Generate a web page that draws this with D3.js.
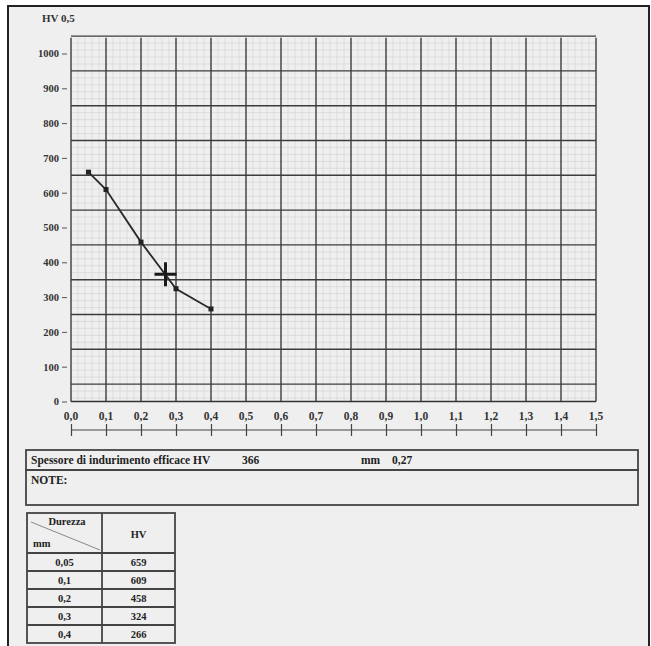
<!DOCTYPE html>
<html><head><meta charset="utf-8">
<script src="https://cdn.jsdelivr.net/npm/d3@7"></script>
<style>
html,body{margin:0;padding:0;background:#fff;}
svg{display:block;font-family:"Liberation Serif","DejaVu Serif",serif;font-weight:bold;}
</style></head>
<body><svg id="c" width="651" height="646"></svg>
<script>
// ---- data ----
const depthsMM = [0.05, 0.1, 0.2, 0.3, 0.4];
const hardnessHV = [659, 609, 458, 324, 266];
const depthLabels = ["0,05", "0,1", "0,2", "0,3", "0,4"];
const effectiveDepth = 0.27;
const effectiveHV = 366;
const xTicks = d3.range(0, 16).map(i => i / 10);
const yTicks = d3.range(0, 11).map(i => i * 100);
const yGridLines = d3.range(0, 11).map(i => 50 + i * 100);
const yAxisTitle = "HV 0,5";
const infoLabel = "Spessore di indurimento efficace HV";
const noteLabel = "NOTE:";
const tableHeader = ["Durezza", "mm", "HV"];

const fmt = v => v.toFixed(1).replace(".", ",");

const svg = d3.select("#c");
// page background + frame
svg.append("rect").attr("x", 8).attr("y", 6).attr("width", 641).attr("height", 650)
  .attr("fill", "#efefef").attr("stroke", "#222").attr("stroke-width", 2);

const x = d3.scaleLinear().domain([0, 1.5]).range([71, 596]);
const y = d3.scaleLinear().domain([0, 1000]).range([401.5, 53.5]);
const yTop = y(1045);

const g = svg.append("g");
// minor grid
const minorXv = d3.range(0, 75).map(i => i * 0.02).filter(v => Math.round(v * 100) % 10 !== 0);
g.selectAll(".mx").data(minorXv).join("line")
  .attr("x1", d => x(d)).attr("x2", d => x(d)).attr("y1", yTop).attr("y2", y(0))
  .attr("stroke", "#d2d2d2").attr("stroke-width", 0.6);
const minorYv = d3.range(0, 53).map(i => 50 + i * 20).filter(v => (v - 50) % 100 !== 0 && v < 1045);
minorYv.push(10, 30);
g.selectAll(".my").data(minorYv).join("line")
  .attr("x1", x(0)).attr("x2", x(1.5)).attr("y1", d => y(d)).attr("y2", d => y(d))
  .attr("stroke", "#d2d2d2").attr("stroke-width", 0.6);
// major grid
g.selectAll(".vx").data(xTicks).join("line")
  .attr("x1", d => x(d)).attr("x2", d => x(d)).attr("y1", yTop).attr("y2", y(0))
  .attr("stroke", "#3c3c3c").attr("stroke-width", 1.4);
g.selectAll(".hy").data(yGridLines).join("line")
  .attr("x1", x(0)).attr("x2", x(1.5)).attr("y1", d => y(d)).attr("y2", d => y(d))
  .attr("stroke", "#3c3c3c").attr("stroke-width", 1.4);
g.append("line").attr("x1", x(0)).attr("x2", x(1.5)).attr("y1", y(0)).attr("y2", y(0))
  .attr("stroke", "#333").attr("stroke-width", 1.4);

// y axis ticks + labels
const yAxis = d3.axisLeft(y).tickValues(yTicks).tickSize(5).tickPadding(3).tickFormat(d3.format("d"));
const ya = svg.append("g").attr("transform", `translate(${x(0) - 4},0)`).call(yAxis);
ya.select(".domain").remove();
ya.selectAll("line").attr("stroke", "#555");
ya.selectAll("text").attr("font-size", 10.5).attr("fill", "#333").attr("font-family", "Liberation Serif").attr("font-weight", "bold");

// x labels
svg.append("g").selectAll("text").data(xTicks).join("text")
  .attr("x", d => x(d)).attr("y", 420).attr("text-anchor", "middle")
  .attr("font-size", 11.5).attr("fill", "#333").text(fmt);
// lower x axis line with ticks
const xAxis = d3.axisBottom(x).tickValues(xTicks).tickSize(6).tickFormat("");
const xa = svg.append("g").attr("transform", "translate(0,430)").call(xAxis);
xa.select(".domain").attr("d", `M${x(0)},0H${x(1.5)}`).attr("stroke", "#444").attr("stroke-width", 1.2);
xa.selectAll(".tick line").attr("y1", -6).attr("y2", 6).attr("stroke", "#444").attr("stroke-width", 1.2);

// title
svg.append("text").attr("x", 42).attr("y", 22).attr("font-size", 11).attr("fill", "#333").text(yAxisTitle);

// data line
const pts = depthsMM.map((d, i) => [d, hardnessHV[i]]);
svg.append("path").datum(pts)
  .attr("d", d3.line().x(d => x(d[0])).y(d => y(d[1])))
  .attr("fill", "none").attr("stroke", "#2a2a2a").attr("stroke-width", 1.8);
svg.append("g").selectAll("rect").data(pts).join("rect")
  .attr("x", d => x(d[0]) - 2.5).attr("y", d => y(d[1]) - 2.5).attr("width", 5).attr("height", 5)
  .attr("fill", "#222");
// effective depth cross
const cx = x(effectiveDepth), cy = y(effectiveHV);
svg.append("path").attr("d", `M${cx - 11},${cy}H${cx + 11}M${cx},${cy - 12}V${cy + 12}`)
  .attr("stroke", "#1a1a1a").attr("stroke-width", 3);

// info boxes
const fs = 11.5;
const box = svg.append("g");
box.append("rect").attr("x", 26).attr("y", 450).attr("width", 612).attr("height", 20)
  .attr("fill", "none").attr("stroke", "#444").attr("stroke-width", 1.8);
box.append("rect").attr("x", 26).attr("y", 470).attr("width", 612).attr("height", 35)
  .attr("fill", "none").attr("stroke", "#444").attr("stroke-width", 1.8);
box.append("text").attr("x", 31).attr("y", 464).attr("font-size", fs).attr("fill", "#222").text(infoLabel);
box.append("text").attr("x", 242).attr("y", 464).attr("font-size", fs).attr("fill", "#222").text(String(effectiveHV));
box.append("text").attr("x", 361).attr("y", 464).attr("font-size", fs).attr("fill", "#222").text("mm");
box.append("text").attr("x", 392).attr("y", 464).attr("font-size", fs).attr("fill", "#222").text(String(effectiveDepth).replace(".", ","));
box.append("text").attr("x", 31).attr("y", 484).attr("font-size", fs).attr("fill", "#222").text(noteLabel);

// table
const tfs = 10.5;
const tx0 = 27, tx1 = 102, tx2 = 175, ty0 = 513, ty1 = 553, rowH = 18;
const t = svg.append("g");
t.append("rect").attr("x", tx0).attr("y", ty0).attr("width", tx2 - tx0).attr("height", ty1 - ty0 + rowH * depthsMM.length)
  .attr("fill", "none").attr("stroke", "#444").attr("stroke-width", 1.8);
t.append("line").attr("x1", tx1).attr("x2", tx1).attr("y1", ty0).attr("y2", ty1 + rowH * depthsMM.length)
  .attr("stroke", "#444").attr("stroke-width", 1.8);
t.selectAll(".rl").data(d3.range(depthsMM.length)).join("line")
  .attr("x1", tx0).attr("x2", tx2).attr("y1", i => ty1 + i * rowH).attr("y2", i => ty1 + i * rowH)
  .attr("stroke", "#444").attr("stroke-width", 1.8);
t.append("line").attr("x1", tx0 + 4).attr("y1", ty0 + 9).attr("x2", tx1 - 2).attr("y2", ty1 - 3)
  .attr("stroke", "#888").attr("stroke-width", 1);
t.append("text").attr("x", 67).attr("y", 525).attr("text-anchor", "middle").attr("font-size", tfs).attr("fill", "#222").text(tableHeader[0]);
t.append("text").attr("x", 33).attr("y", 547).attr("font-size", tfs).attr("fill", "#222").text(tableHeader[1]);
t.append("text").attr("x", (tx1 + tx2) / 2).attr("y", 538).attr("text-anchor", "middle").attr("font-size", tfs).attr("fill", "#222").text(tableHeader[2]);
t.selectAll(".dl").data(depthLabels).join("text")
  .attr("x", (tx0 + tx1) / 2).attr("y", (d, i) => ty1 + i * rowH + 13).attr("text-anchor", "middle")
  .attr("font-size", tfs).attr("fill", "#222").text(d => d);
t.selectAll(".hl").data(hardnessHV).join("text")
  .attr("x", (tx1 + tx2) / 2).attr("y", (d, i) => ty1 + i * rowH + 13).attr("text-anchor", "middle")
  .attr("font-size", tfs).attr("fill", "#222").text(d => d);
</script></body></html>
